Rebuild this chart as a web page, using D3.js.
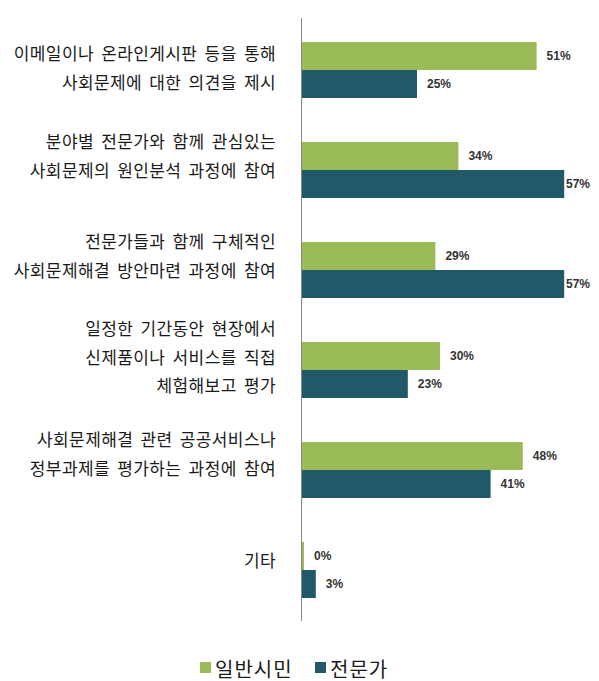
<!DOCTYPE html>
<html><head><meta charset="utf-8">
<script src="https://cdn.jsdelivr.net/npm/d3@7"></script>
<style>body{margin:0;background:#fff;} svg{display:block;}</style>
</head><body>
<svg id="c" width="599" height="681"></svg>
<script>
const categories = [
  ["이메일이나 온라인게시판 등을 통해", "사회문제에 대한 의견을 제시"],
  ["분야별 전문가와 함께 관심있는", "사회문제의 원인분석 과정에 참여"],
  ["전문가들과 함께 구체적인", "사회문제해결 방안마련 과정에 참여"],
  ["일정한 기간동안 현장에서", "신제품이나 서비스를 직접", "체험해보고 평가"],
  ["사회문제해결 관련 공공서비스나", "정부과제를 평가하는 과정에 참여"],
  ["기타"]
];
const seriesNames = ["일반시민", "전문가"];
const citizen = [51, 34, 29, 30, 48, 0];
const expert = [25, 57, 57, 23, 41, 3];
const colors = ["#9bbb59", "#215968"];

const svg = d3.select("#c");
const x = d3.scaleLinear().domain([0, 60]).range([302, 578]);
const y0 = d3.scaleBand().domain(d3.range(categories.length)).range([20, 620]);
const y1 = d3.scaleBand().domain(seriesNames).range([22, 78]);
const labelShift = [-3, -15, -15, -14, -17, -11];
const lineH = 28.5;

const values = [citizen, expert];
const g = svg.append("g");
categories.forEach((cat, i) => {
  seriesNames.forEach((s, j) => {
    const v = values[j][i];
    const yy = y0(i) + y1(s);
    g.append("rect")
      .attr("x", x(0)).attr("y", yy)
      .attr("width", Math.max(x(v) - x(0), v === 0 ? 2 : 0))
      .attr("height", y1.bandwidth())
      .attr("fill", colors[j]);
    g.append("text")
      .attr("x", Math.min(x(v) + (v === 0 ? 12 : 10), 566))
      .attr("y", yy + y1.bandwidth() / 2)
      .attr("dominant-baseline", "central")
      .attr("font-family", "Liberation Sans, Arial, sans-serif")
      .attr("font-size", 12).attr("font-weight", "bold")
      .attr("fill", "#333")
      .text(v + "%");
  });
  const cy = y0(i) + y0.bandwidth() / 2 + labelShift[i];
  const n = cat.length;
  cat.forEach((line, k) => {
    svg.append("text")
      .attr("x", 276)
      .attr("y", cy + (k - (n - 1) / 2) * lineH)
      .attr("dominant-baseline", "central")
      .attr("text-anchor", "end")
      .attr("font-family", "Noto Sans CJK KR, sans-serif")
      .attr("font-size", 17)
      .attr("letter-spacing", "0.4px")
      .attr("word-spacing", "3px")
      .attr("fill", "#1a1a1a")
      .text(line);
  });
});

// axis line
svg.append("line")
  .attr("x1", 301.5).attr("x2", 301.5)
  .attr("y1", 18).attr("y2", 621)
  .attr("stroke", "#8a8a8a").attr("stroke-width", 1);

// legend
const legend = svg.append("g");
const legendX = [200, 315];
seriesNames.forEach((s, j) => {
  legend.append("rect").attr("x", legendX[j]).attr("y", 662)
    .attr("width", 11).attr("height", 11).attr("fill", colors[j]);
  legend.append("text").attr("x", legendX[j] + 15).attr("y", 668)
    .attr("dominant-baseline", "central")
    .attr("font-family", "Noto Sans CJK KR, sans-serif")
    .attr("font-size", 20).attr("letter-spacing", "1px").attr("fill", "#1a1a1a")
    .text(s);
});
</script>
</body></html>
